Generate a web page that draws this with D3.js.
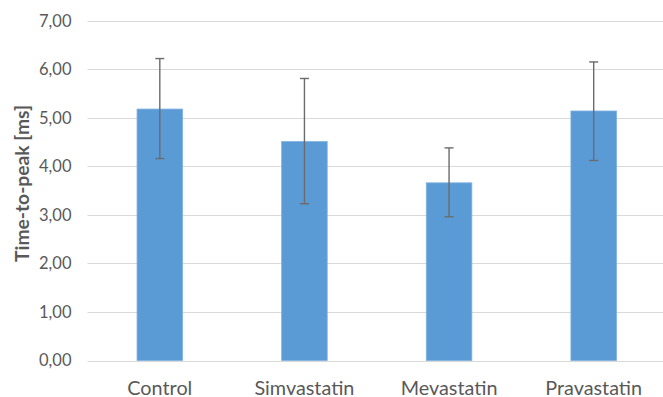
<!DOCTYPE html>
<html><head><meta charset="utf-8">
<script src="https://cdn.jsdelivr.net/npm/d3@7"></script>
<style>body{margin:0;background:#fff;} svg{display:block;}</style>
</head><body>
<svg id="c" width="663" height="397"></svg>
<script>
const categories = ["Control", "Simvastatin", "Mevastatin", "Pravastatin"];
const values = [5.18, 4.51, 3.66, 5.14];
const errLow = [4.16, 3.23, 2.96, 4.12];
const errHigh = [6.22, 5.81, 4.38, 6.15];
const yTicks = [0, 1, 2, 3, 4, 5, 6, 7];
const yLabel = "Time-to-peak [ms]";

(function () {
const svg = d3.select("#c");
const mLeft = 87.5, mRight = 666, mTop = 20.7, mBottom = 360.5;
const x = d3.scaleBand().domain(categories).range([mLeft, mRight]).paddingInner(0.685).paddingOuter(0.3425);
const y = d3.scaleLinear().domain([0, 7]).range([mBottom, mTop]);
const fmt = v => d3.format(".2f")(v).replace(".", ",");
const font = "Lato, 'Open Sans', sans-serif";

// fit a font size so that a sample string has a target width
function fitSize(sample, target, weight) {
  const t = svg.append("text").attr("font-family", font).attr("font-size", 20)
    .attr("font-weight", weight || "normal").text(sample);
  const w = t.node().getComputedTextLength();
  t.remove();
  return 20 * target / w;
}
const tickSize = fitSize("0,00", 32.5);
const catSize = fitSize("Control", 65);
const titleSize = fitSize(yLabel, 157, "bold");

// gridlines
svg.append("g").selectAll("line").data(yTicks).join("line")
  .attr("x1", mLeft).attr("x2", 663)
  .attr("y1", d => Math.round(y(d)) + 0.5).attr("y2", d => Math.round(y(d)) + 0.5)
  .attr("stroke", "#d9d9d9").attr("stroke-width", 1);

// y tick labels
svg.append("g").selectAll("text").data(yTicks).join("text")
  .attr("x", 71.5).attr("y", d => y(d)).attr("dy", "0.36em")
  .attr("text-anchor", "end").attr("font-family", font).attr("font-size", tickSize)
  .attr("fill", "#595959").text(fmt);

// bars
svg.append("g").selectAll("rect").data(categories).join("rect")
  .attr("x", d => x(d)).attr("width", x.bandwidth())
  .attr("y", (d, i) => y(values[i])).attr("height", (d, i) => y(0) - y(values[i]))
  .attr("fill", "#5b9bd5").attr("stroke", "#7fb0df").attr("stroke-width", 0.8);

// error bars
const eg = svg.append("g").attr("stroke", "#6b6b6b").attr("stroke-width", 1.4);
categories.forEach((c, i) => {
  const cx = x(c) + x.bandwidth() / 2;
  eg.append("line").attr("x1", cx).attr("x2", cx).attr("y1", y(errLow[i])).attr("y2", y(errHigh[i]));
  eg.append("line").attr("x1", cx - 4.5).attr("x2", cx + 4.5).attr("y1", y(errLow[i])).attr("y2", y(errLow[i]));
  eg.append("line").attr("x1", cx - 4.5).attr("x2", cx + 4.5).attr("y1", y(errHigh[i])).attr("y2", y(errHigh[i]));
});

// category labels
svg.append("g").selectAll("text").data(categories).join("text")
  .attr("x", d => x(d) + x.bandwidth() / 2).attr("y", 394.5)
  .attr("text-anchor", "middle").attr("font-family", font).attr("font-size", catSize)
  .attr("fill", "#595959").text(d => d);

// y axis title
svg.append("text")
  .attr("transform", "translate(29, 183.5) rotate(-90)")
  .attr("text-anchor", "middle").attr("font-family", font).attr("font-size", titleSize)
  .attr("font-weight", "bold").attr("fill", "#595959").text(yLabel);
})();
</script>
</body></html>
